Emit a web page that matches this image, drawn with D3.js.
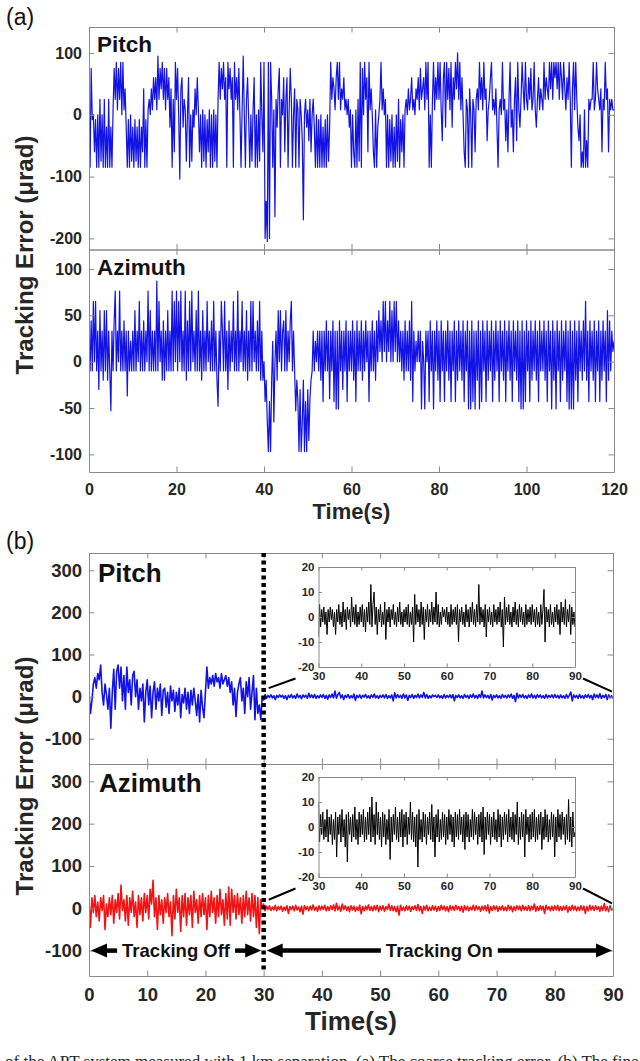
<!DOCTYPE html>
<html>
<head>
<meta charset="utf-8">
<script src="https://cdn.jsdelivr.net/npm/d3@7"></script>
<style>
  html, body { margin: 0; padding: 0; background: #fff; }
  svg { display: block; font-family: "Liberation Sans", Arial, sans-serif; }
</style>
</head>
<body>
<svg id="chart" width="640" height="1061"></svg>
<script>
"use strict";

// ==========  Data  ==========
// (a) coarse tracking error (urad), readings evenly spaced over 0-120 s (every 0.25 s)
var coarsePitch = [
  8, -85, 75, -8, 0, -60, -8, -85, 0, -85, 25, -75, 0, -85, 25, -85, -20, -85, 25, -85,
  -20, -85, 8, 75, 25, 85, 8, 75, 25, 85, 0, 85, 8, 42, -20, -85, -8, -85, 0, -75,
  -20, -85, -8, -75, -20, -85, -8, -85, -20, -60, 42, -85, -8, -85, 8, 25, 0, 42, 8, 60,
  25, 60, 8, 95, 25, 75, 42, 85, 25, 75, 8, 75, 25, 60, -20, 42, -85, 25, -60, 85,
  25, 75, 0, -104, 42, 60, -20, 25, 8, -75, 0, 60, -85, 0, -75, 8, -20, 42, 0, 60,
  8, -60, 0, -85, 8, -75, 0, -85, -8, -60, 8, -85, 0, -85, 8, -75, 0, -85, 25, 85,
  25, 75, 42, 85, 25, 60, -85, 85, 42, 75, 25, 60, -85, 85, 25, 60, 8, 75, 0, -85,
  8, 95, 0, -85, 25, 60, -8, -85, 0, -75, 8, 60, -85, 0, -85, 8, -75, 85, 0, -60,
  85, -200, -140, -205, 85, -200, 85, 25, -85, 8, -165, 25, -20, 42, 75, -85, 25, 0, 60, -60,
  25, 60, -85, 8, 75, 25, -85, 0, 42, -85, 25, 8, -85, 25, 0, -42, -170, 0, 25, -20,
  8, -42, 25, -60, 0, 25, -20, -85, 0, -85, -8, -85, 0, -85, -20, -85, -8, -85, 0, -75,
  -20, 85, 25, 60, 42, 8, 60, 85, 25, 85, 8, 42, 25, 60, 8, 25, 0, 25, -20, 8,
  -85, 0, -60, -85, 8, -85, 25, -75, 85, -85, 75, 0, 85, 25, 60, -60, 85, 8, 42, 0,
  -60, -85, 8, -85, -20, 0, 25, 85, 8, 42, 0, 25, -85, 0, -85, -8, -75, 0, -85, -20,
  -85, 0, -75, 25, -85, -8, -60, 0, -85, 8, 25, 0, 42, 8, 25, 60, 8, 25, 0, 42,
  25, 60, 8, 75, 25, 42, 60, 8, 85, 25, 85, -85, 0, -85, 25, 85, 8, 60, 25, 85,
  25, 85, 8, -42, 60, 85, -20, 85, 25, 75, 8, 85, -20, 60, 25, 85, 42, 100, 25, 85,
  8, 60, 0, -60, -85, 25, 8, -85, 42, 0, -85, 25, 8, -60, 25, 42, 8, 85, 25, 60,
  8, 85, 25, 42, -42, 8, 25, 60, 85, 8, 25, 0, 42, -20, -85, 8, 25, 0, 85, 8,
  25, -42, 8, -60, 25, 85, -20, 8, -60, 25, 60, -42, 85, 8, -20, 25, 85, 42, 8, 85,
  25, 8, 60, 25, 75, 8, 25, 85, 8, -20, 25, 60, 8, 42, 25, 8, 85, 25, 60, 42,
  25, 85, 42, 85, 25, 85, 60, 85, 42, 85, 25, 85, 60, 25, 85, 42, 8, 60, 25, 85,
  25, -85, 42, 85, 8, 85, 25, -20, -42, 0, -85, -60, -85, 8, -85, -42, -85, 25, 8, 25,
  25, 85, 8, 25, 85, 42, 25, 8, 42, -60, 25, 8, 85, 25, 42, -60, 25, 8, 25, 8,
  8
]
var coarseAzimuth = [
  33, -10, 44, -10, 65, 0, 65, -10, 33, -30, 55, -10, 33, -20, 55, -10, 55, -20, 33, -10,
  -53, 33, -10, 44, 76, -10, 33, 0, 76, -10, 33, -10, 44, -10, 33, -37, 33, -10, 22, -10,
  33, -10, 55, -10, 33, 0, 65, -10, 33, -10, 44, -10, 33, 0, 76, -10, 55, -10, 33, -10,
  33, -10, 87, -10, 65, 0, 33, -20, 44, -20, 33, -10, 55, -10, 33, -10, 76, -10, 65, 0,
  76, -10, 65, 0, 76, -10, 33, -10, 76, -20, 44, -10, 65, -10, 76, 0, 33, -10, 55, -10,
  76, -10, 33, -20, 55, -10, 33, -10, 65, 0, 33, -10, 44, -10, 65, -10, 33, -20, -48, 33,
  -10, 65, 33, -10, 65, -10, 33, -30, 44, -10, 33, 0, 65, -10, 33, -10, 76, -10, 33, 0,
  65, -10, 33, -10, 55, -20, 33, -10, 65, -10, 65, 0, 33, -10, 44, -10, 65, -20, 33, -20,
  0, -43, -20, -65, -97, -43, -97, -20, 22, -65, 0, 33, -20, 55, 0, 55, -10, 33, 44, -10,
  55, -10, 33, 0, 44, 65, -10, 33, -10, -53, -20, -43, -97, -30, -97, -65, -20, -97, -43, -97,
  -30, -85, -40, -20, -10, 33, -10, 22, 0, 33, -10, 33, -20, 33, -43, 33, -10, 44, -10, 33,
  -40, 33, -10, 44, -43, 33, -51, 33, -51, 44, -10, 33, -30, 33, -10, 44, -43, 33, -10, 33,
  -10, 44, -20, 33, -43, 44, -10, 33, -10, 44, -20, 33, -10, 44, 0, 33, -43, 33, -10, 44,
  -10, 33, -20, 44, 0, 55, 11, 44, 0, 65, 11, 65, 0, 44, 11, 65, 0, 55, 0, 65,
  11, 65, 0, 44, 0, 33, -10, 33, -20, 44, -10, 33, -10, 44, -20, 65, -43, 33, -10, 22,
  0, 33, 0, 33, -51, 22, 0, -51, 33, 0, 33, -43, 44, -10, 33, -51, 33, -10, 44, -20,
  33, -43, 44, -10, 33, -43, 33, -10, 44, -20, 33, -43, 33, -10, 44, -43, 33, -20, 44, -10,
  33, -20, 44, -43, 33, -10, 44, -51, 33, -51, 44, -43, 33, -51, 33, -20, 44, -51, 33, -43,
  44, -10, 33, -43, 44, -20, 33, -10, 44, -43, 33, -20, 44, -10, 33, -43, 44, -10, 33, -20,
  44, -43, 33, -10, 44, -20, 33, -43, 44, -10, 33, -20, 44, -43, 33, -51, 44, -51, 33, -43,
  44, -10, 33, -43, 44, -20, 33, -10, 44, -20, 33, -43, 44, -10, 33, -10, 44, -20, 33, -43,
  44, -10, 33, -51, 44, -20, 33, -51, 44, -10, 33, -43, 44, -20, 33, -10, 44, -43, 33, -51,
  44, -51, 33, -51, 44, -20, 33, -43, 44, -10, 33, -20, 44, -10, 65, -20, 33, -43, 44, -10,
  33, -20, 44, -43, 33, -10, 44, -43, 33, -20, 44, -10, 33, -43, 55, -20, 44, -10, 33, 11,
  22
]

// (b) fine tracking error (urad), every 0.25 s: tracking off 0-30 s, tracking on 30-90 s
var finePitchOff = [
  10, -40, -10, 30, 45, 20, 55, 40, 75, 10, -20, 30, 5, -30, 20, -75, 10, 65, -30, 60,
  75, 20, 70, -10, 50, -30, 70, 10, 40, -20, 50, 60, 0, 40, -30, 20, -10, 30, -60, 10,
  40, -20, 25, -50, 10, 35, -30, 20, -10, 30, -45, 15, 20, -25, 10, -40, 25, -10, 15, -35,
  10, -20, 20, -50, 5, -15, 20, -30, 10, -40, 15, -20, 20, -10, -45, 5, -60, 15, -25, -50,
  10, 70, 20, 45, 30, 50, 25, 55, 35, 45, 20, 55, 30, 40, 50, 25, 45, 10, 35, -20,
  20, -47, 10, 30, 45, -10, 20, -40, 35, 0, 45, -30, 10, 50, -55, 20, -40, -20, -55, 0
]
var finePitchOn = [
  -8, 5, -4, 3, -2, 4, -3, 2, -7, 3, -2, 4, -1, 3, -4, 2, -7, 3, -2, 5,
  -3, 2, -4, 6, -2, 3, -5, 4, -1, 3, -4, 8, -2, 4, -3, 5, -4, 2, -3, 4,
  -2, 5, -4, 3, -6, 4, -2, 6, -3, 13, -4, 5, 10, -3, 4, -7, 3, -2, 5, -4,
  2, -3, 6, -9, 3, -2, 4, -4, 3, -1, 5, -3, 2, -4, 4, -2, 6, -3, 2, -4,
  3, -2, 4, -3, 5, -4, 2, -3, 4, -10, 9, -3, 5, -2, 3, -4, 6, -3, 4, -9,
  3, -2, 5, -4, 3, -2, 6, -3, 4, -2, 10, -3, 5, -4, 2, -3, 4, 0, 3, -2,
  4, -3, 2, -4, 5, -3, 3, -2, 4, -3, 5, -10, 3, -2, 4, -3, 2, -4, 5, -2,
  3, -4, 4, -2, 6, -3, 3, -4, 5, -2, 13, -3, 4, -2, 3, -4, 5, -8, 3, -2,
  4, -3, 2, -4, 5, -2, 3, -3, 4, -2, 6, -4, 3, -12, 8, -3, 4, -2, 5, -3,
  2, -4, 4, -2, 6, -3, 3, -4, 5, -2, 4, -3, 2, -4, 5, -3, 3, -2, 4, -3,
  5, -2, 3, -4, 4, -3, 2, -4, 5, -3, 3, 11, -10, 4, -2, 3, -4, 5, -3, 2,
  -4, 4, -2, 5, -3, 3, -7, 6, -2, 4, -3, 7, -4, 3, -2, 5, -7, 4, -3, 2,
  -4
]
var fineAzimuthOff = [
  20, -45, 25, -10, 30, -20, 15, -30, 25, -5, 30, -50, 10, -20, 25, -15, 30, -35, 20, -10,
  35, -25, 55, -5, 20, -30, 30, -40, 25, -10, 40, -20, 15, -45, 30, -15, 25, -30, 35, -10,
  30, -25, 45, 10, 66, -20, 25, -50, 30, -15, 20, -35, 25, -10, 35, -20, 15, -65, 30, -25,
  45, -10, 25, -55, 30, -20, 35, -40, 25, -15, 30, -45, 40, -10, 20, -35, 30, -20, 35, -15,
  25, -50, 30, -20, 40, -10, 25, -35, 30, -20, 45, -15, 20, -40, 35, -25, 50, -40, 45, -10,
  30, -25, 35, -15, 25, -35, 30, -20, 40, -15, 25, -30, 35, -20, 30, -45, 25, -60, 20, 0
]
var fineAzimuthOn = [
  10, -6, 5, -3, 6, -5, 3, -4, 7, -6, 4, -3, 5, -7, 3, -5, 6, -12, 4, -3,
  5, -6, 7, -4, 3, -8, 5, -14, 6, -3, 4, -6, 5, -4, 8, -5, 3, -7, 6, -4,
  5, -3, 7, -6, 4, -5, 6, -3, 8, -6, 12, -4, 5, -7, 10, -3, 6, -5, 4, -8,
  6, -4, 5, -7, 3, -5, 7, -13, 4, -6, 5, -3, 8, -5, 4, -6, 6, -4, 7, -8,
  5, -4, 6, -7, 4, -3, 10, -5, 6, -6, 4, -8, 5, -16, 7, -5, 3, -6, 6, -4,
  5, -7, 4, -3, 6, -5, 9, -6, 4, -12, 5, -4, 7, -6, 3, -5, 6, -4, 5, -7,
  4, -5, 7, -3, 5, -6, 4, -8, 6, -4, 5, -5, 7, -3, 4, -6, 5, -9, 6, -4,
  5, -6, 3, -4, 7, -5, 6, -3, 4, -7, 5, -4, 6, -6, 8, -11, 4, -5, 6, -3,
  5, -7, 4, -4, 6, -5, 3, -6, 7, -4, 5, -8, 4, -5, 6, -3, 5, -6, 7, -4,
  4, -5, 6, -6, 5, -3, 10, -7, 4, -5, 6, -4, 5, -12, 7, -3, 4, -6, 5, -5,
  6, -4, 7, -6, 4, -5, 5, -3, 6, -9, 4, -5, 7, -4, 5, -6, 3, -5, 6, -4,
  5, -12, 4, -6, 7, -4, 5, -5, 6, -3, 4, -7, 5, -5, 11, -6, 4, -8, 6, -4,
  -2
]

var coarseTimeTicks    = [0, 20, 40, 60, 80, 100, 120]
var coarsePitchTicks   = [-200, -100, 0, 100]
var coarseAzimuthTicks = [-100, -50, 0, 50, 100]
var fineTimeTicks      = [0, 10, 20, 30, 40, 50, 60, 70, 80, 90]
var fineErrorTicks     = [-100, 0, 100, 200, 300]
var insetTimeTicks     = [30, 40, 50, 60, 70, 80, 90]
var insetErrorTicks    = [-20, -10, 0, 10, 20]

var switchTime = 30 // tracking switched on


// ==========  Helpers  ==========
var svg = d3.select('#chart')
svg.append('rect').attr('width', 640).attr('height', 1061).attr('fill', '#fff')
var defs = svg.append('defs')
var clipCount = 0

var AXIS_GRAY = '#8a8a8a'
var LABEL_INK = '#262626'

// box with inward ticks on all four sides, MATLAB style
var frame = function(g, x, y, o) {
  var w = x.range()[1], h = y.range()[0]
  var noText = function() { return '' }
  var parts = [
    g.append('g').call(d3.axisLeft(y).tickValues(o.yTicks).tickSizeInner(-o.tick).tickSizeOuter(0)
      .tickPadding(o.yPad).tickFormat(o.yLabels ? String : noText)),
    g.append('g').attr('transform', 'translate(' + w + ',0)')
      .call(d3.axisRight(y).tickValues(o.yTicks).tickSizeInner(-o.tick).tickSizeOuter(0).tickFormat(noText)),
    g.append('g').call(d3.axisTop(x).tickValues(o.xTicks).tickSizeInner(-o.tick).tickSizeOuter(0).tickFormat(noText)),
    g.append('g').attr('transform', 'translate(0,' + h + ')')
      .call(d3.axisBottom(x).tickValues(o.xTicks).tickSizeInner(-o.tick).tickSizeOuter(0)
        .tickPadding(o.xPad).tickFormat(o.xLabels ? String : noText))
  ]
  parts.forEach(function(p) {
    p.selectAll('.domain').attr('stroke', AXIS_GRAY).attr('stroke-width', 1)
    p.selectAll('.tick line').attr('stroke', AXIS_GRAY)
    p.selectAll('.tick text').attr('fill', LABEL_INK).attr('font-weight', 'bold')
      .attr('font-size', o.fontSize).attr('font-family', '"Liberation Sans", Arial, sans-serif')
  })
}

var clipFor = function(g, w, h) {
  var id = 'clip' + (clipCount++)
  defs.append('clipPath').attr('id', id).append('rect').attr('width', w).attr('height', h)
  return 'url(#' + id + ')'
}

// values evenly spaced from t0 to t1
var timed = function(values, t0, t1, closed) {
  var n = closed ? values.length - 1 : values.length
  return values.map(function(v, i) { return {t: t0 + (t1 - t0) * i / n, v: v} })
}

var trace = function(g, x, y, points, color, width) {
  g.append('path').datum(points)
    .attr('clip-path', clipFor(g, x.range()[1], y.range()[0]))
    .attr('fill', 'none').attr('stroke', color).attr('stroke-width', width)
    .attr('stroke-linejoin', 'round')
    .attr('d', d3.line().x(function(d) { return x(d.t) }).y(function(d) { return y(d.v) }))
}

var title = function(x, y, text, size, weight) {
  return svg.append('text').attr('x', x).attr('y', y).text(text)
    .attr('font-size', size).attr('font-weight', weight || 'bold').attr('fill', '#111')
}

var yTitle = function(cx, cy) {
  svg.append('text').attr('transform', 'translate(' + cx + ',' + cy + ') rotate(-90)')
    .attr('text-anchor', 'middle').attr('font-size', 24).attr('font-weight', 'bold')
    .attr('fill', LABEL_INK).text('Tracking Error (\u03bcrad)')
}

var BLUE = '#1212e6', RED = '#f01414'


// ==========  Panel (a): coarse tracking  ==========
var A = {left: 89, top: 27, mid: 249.5, bottom: 472, width: 525}
var xA = d3.scaleLinear().domain([0, 120]).range([0, A.width])
var yPitchA = d3.scaleLinear().domain([-218, 142]).range([A.mid - A.top, 0])
var yAzimA  = d3.scaleLinear().domain([-119, 121]).range([A.bottom - A.mid, 0])

var gPA = svg.append('g').attr('transform', 'translate(' + A.left + ',' + A.top + ')')
var gAA = svg.append('g').attr('transform', 'translate(' + A.left + ',' + A.mid + ')')

trace(gPA, xA, yPitchA, timed(coarsePitch, 0, 120, true), BLUE, 1.2)
trace(gAA, xA, yAzimA, timed(coarseAzimuth, 0, 120, true), BLUE, 1.2)

frame(gPA, xA, yPitchA, {xTicks: coarseTimeTicks, yTicks: coarsePitchTicks, tick: 5.5, yPad: 7, xPad: 12, fontSize: 16, yLabels: true})
frame(gAA, xA, yAzimA, {xTicks: coarseTimeTicks, yTicks: coarseAzimuthTicks, tick: 5.5, yPad: 7, xPad: 12, fontSize: 16, yLabels: true, xLabels: true})

title(97, 52, 'Pitch', 22.5)
title(97, 274.5, 'Azimuth', 22.5)
title(6, 25, '(a)', 23, 'normal')
title(A.left + A.width / 2, 519, 'Time(s)', 22).attr('text-anchor', 'middle').attr('fill', LABEL_INK)
yTitle(33, 255)


// ==========  Panel (b): fine tracking  ==========
var B = {left: 89, top: 553, mid: 764, bottom: 976, width: 524}
var xB = d3.scaleLinear().domain([0, 90]).range([0, B.width])
var yPitchB = d3.scaleLinear().domain([-160, 341]).range([B.mid - B.top, 0])
var yAzimB  = d3.scaleLinear().domain([-160, 341]).range([B.bottom - B.mid, 0])

var gPB = svg.append('g').attr('transform', 'translate(' + B.left + ',' + B.top + ')')
var gAB = svg.append('g').attr('transform', 'translate(' + B.left + ',' + B.mid + ')')

var pitchRun = timed(finePitchOff, 0, switchTime).concat(timed(finePitchOn, switchTime, 90, true))
var azimRun  = timed(fineAzimuthOff, 0, switchTime).concat(timed(fineAzimuthOn, switchTime, 90, true))

trace(gPB, xB, yPitchB, pitchRun, BLUE, 1.6)
trace(gAB, xB, yAzimB, azimRun, RED, 1.6)

frame(gPB, xB, yPitchB, {xTicks: fineTimeTicks, yTicks: fineErrorTicks, tick: 5.5, yPad: 7, xPad: 12, fontSize: 18.5, yLabels: true})
frame(gAB, xB, yAzimB, {xTicks: fineTimeTicks, yTicks: fineErrorTicks, tick: 5.5, yPad: 7, xPad: 12, fontSize: 18.5, yLabels: true, xLabels: true})

// insets: tracking-on part magnified
var insetW = 256.5, insetH = 100
var xI = d3.scaleLinear().domain([30, 90]).range([0, insetW])
var yI = d3.scaleLinear().domain([-20, 20]).range([insetH, 0])
var insets = [
  {top: 567, data: finePitchOn, color: '#000', zeroY: B.top + yPitchB(0)},
  {top: 777, data: fineAzimuthOn, color: '#000', zeroY: B.mid + yAzimB(0)}
]
var insetLeft = 318.5
insets.forEach(function(ins) {
  var g = svg.append('g').attr('transform', 'translate(' + insetLeft + ',' + ins.top + ')')
  g.append('rect').attr('width', insetW).attr('height', insetH).attr('fill', '#fff')
  trace(g, xI, yI, timed(ins.data, 30, 90, true), ins.color, 1)
  frame(g, xI, yI, {xTicks: insetTimeTicks, yTicks: insetErrorTicks, tick: 3.5, yPad: 4, xPad: 5, fontSize: 11.5, yLabels: true, xLabels: true})

  var bottom = ins.top + insetH
  svg.append('line')
    .attr('x1', B.left + xB(switchTime) + 5).attr('y1', ins.zeroY - 8.5)
    .attr('x2', insetLeft - 23).attr('y2', bottom + 11.5)
    .attr('stroke', '#000').attr('stroke-width', 2)
  svg.append('line')
    .attr('x1', insetLeft + insetW + 8).attr('y1', bottom + 11.5)
    .attr('x2', B.left + xB(90) - 1).attr('y2', ins.zeroY - 5)
    .attr('stroke', '#000').attr('stroke-width', 2)
})

// dotted line where tracking is switched on
svg.append('line')
  .attr('x1', B.left + xB(switchTime)).attr('x2', B.left + xB(switchTime))
  .attr('y1', B.top).attr('y2', 972)
  .attr('stroke', '#000').attr('stroke-width', 4.5).attr('stroke-dasharray', '4,3.5')

// double-headed arrows with labels
var arrowY = B.mid + yAzimB(-100)
var arrowSpan = function(x0, x1, label) {
  var head = 16, half = 7, gap = 5
  var txt = svg.append('text').attr('x', (x0 + x1) / 2).attr('y', arrowY + 6.5)
    .attr('text-anchor', 'middle').attr('font-size', 18.5).attr('font-weight', 'bold')
    .attr('fill', '#111').text(label)
  var tw = txt.node().getComputedTextLength()
  var mid = (x0 + x1) / 2
  svg.append('line').attr('x1', x0 + head - 2).attr('x2', mid - tw / 2 - gap)
    .attr('y1', arrowY).attr('y2', arrowY).attr('stroke', '#000').attr('stroke-width', 4.5)
  svg.append('line').attr('x1', mid + tw / 2 + gap).attr('x2', x1 - head + 2)
    .attr('y1', arrowY).attr('y2', arrowY).attr('stroke', '#000').attr('stroke-width', 4.5)
  svg.append('path').attr('fill', '#000')
    .attr('d', 'M' + x0 + ',' + arrowY + 'L' + (x0 + head) + ',' + (arrowY - half) + 'L' + (x0 + head) + ',' + (arrowY + half) + 'Z')
  svg.append('path').attr('fill', '#000')
    .attr('d', 'M' + x1 + ',' + arrowY + 'L' + (x1 - head) + ',' + (arrowY - half) + 'L' + (x1 - head) + ',' + (arrowY + half) + 'Z')
}
arrowSpan(B.left + xB(0) + 2, B.left + xB(switchTime) - 2.5, 'Tracking Off')
arrowSpan(B.left + xB(switchTime) + 3, B.left + xB(90) - 1, 'Tracking On')

title(98, 582, 'Pitch', 26)
title(99, 792, 'Azimuth', 26)
title(6, 549, '(b)', 23, 'normal')
title(B.left + B.width / 2, 1030, 'Time(s)', 26).attr('text-anchor', 'middle').attr('fill', LABEL_INK)
yTitle(33, 776)

// caption, cut off by the bottom edge as in the source
svg.append('text').attr('x', 5).attr('y', 1067)
  .attr('font-family', '"Liberation Serif", "Times New Roman", serif').attr('font-size', 17)
  .attr('fill', '#222')
  .text('of the APT system measured with 1 km separation. (a) The coarse tracking error. (b) The fine tracking error.')
</script>
</body>
</html>
